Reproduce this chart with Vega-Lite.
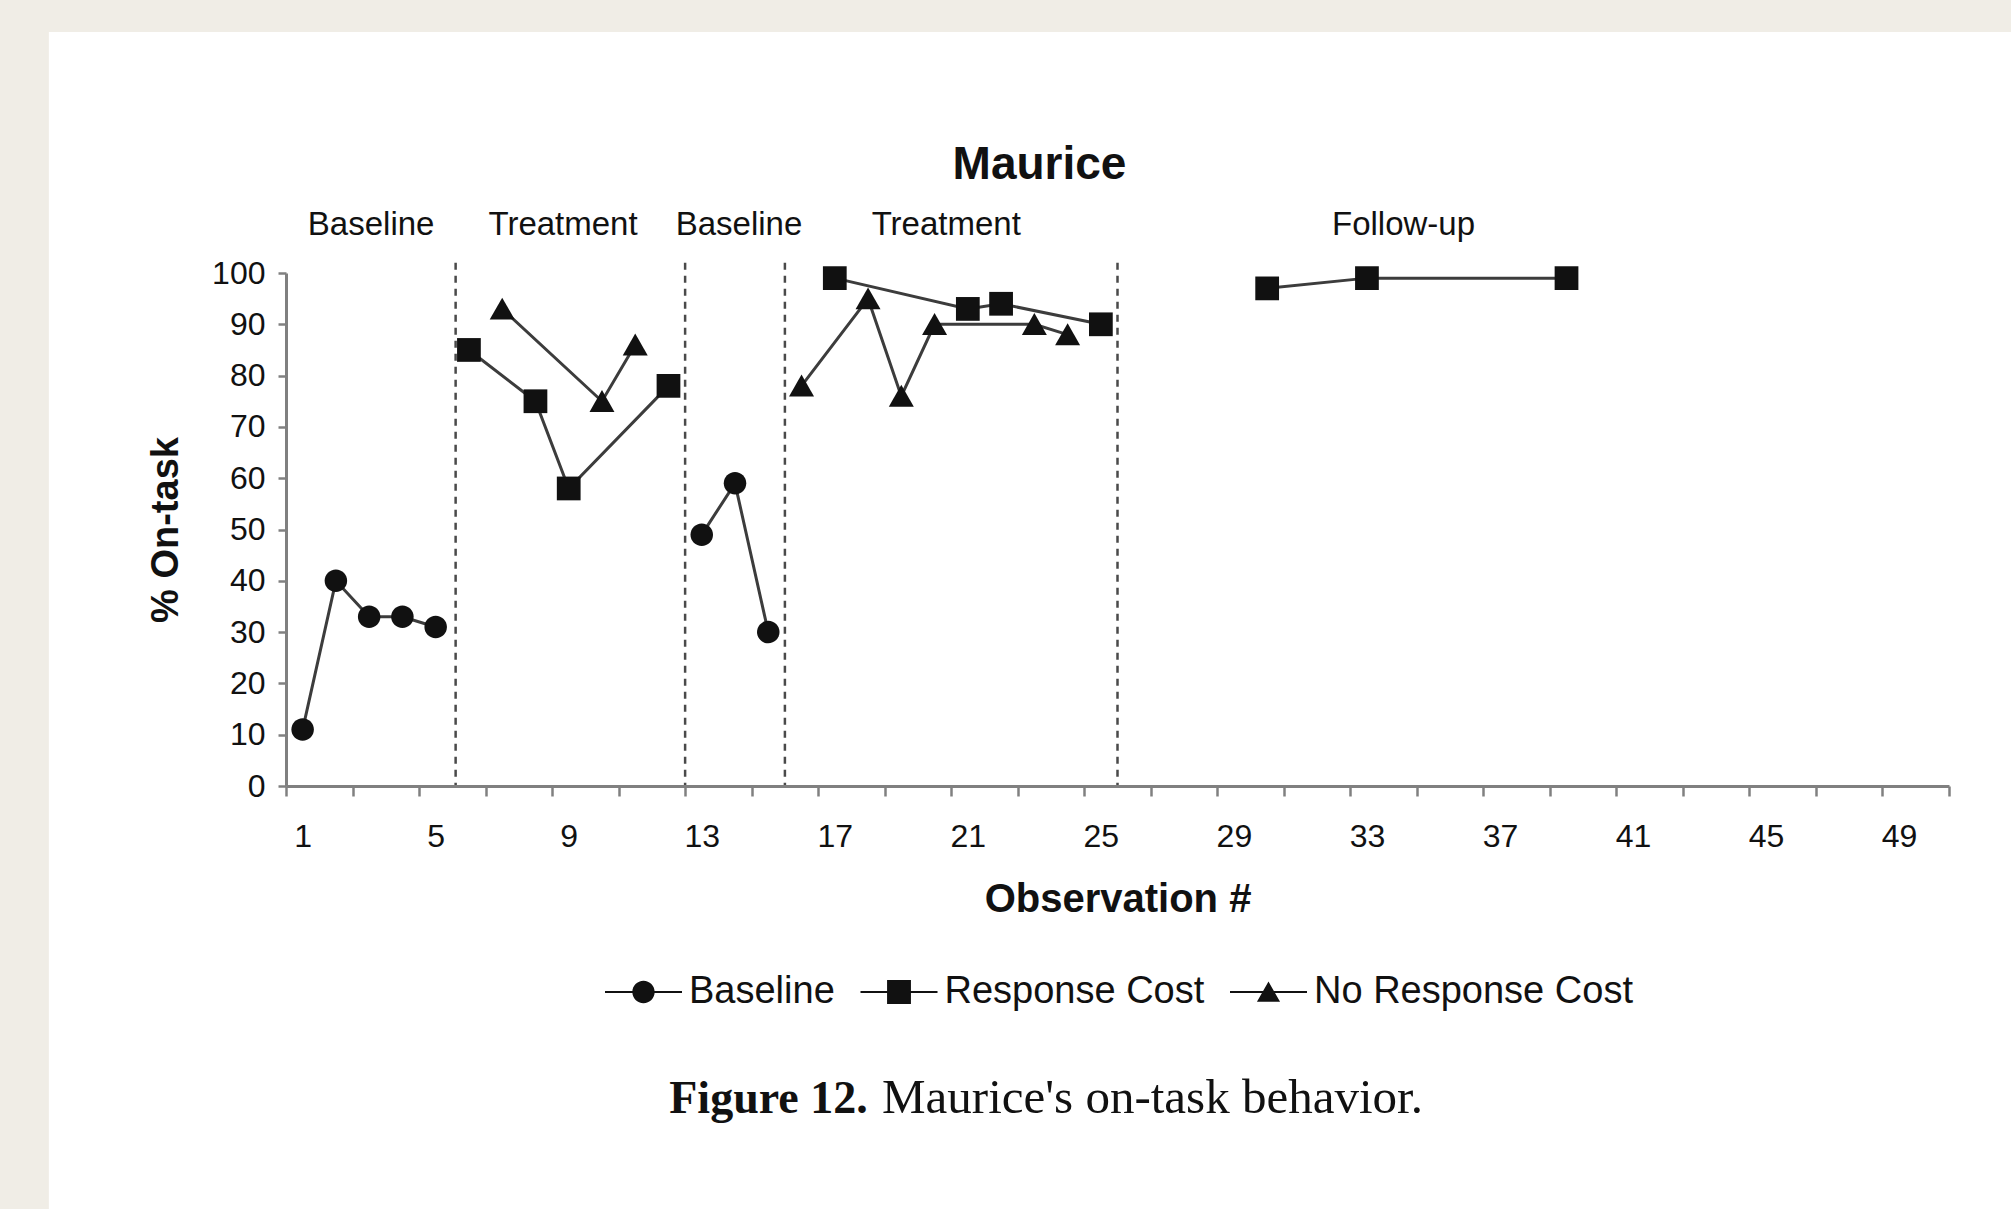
{
  "$schema": "https://vega.github.io/schema/vega-lite/v6.json",
  "width": 1663,
  "height": 513,
  "autosize": {"type": "none"},
  "padding": {"left": 286, "top": 273, "right": 62, "bottom": 423},
  "background": "#ffffff",
  "config": {"view": {"stroke": null}, "font": "Liberation Sans"},
  "title": {"text": "Maurice", "font": "Liberation Sans", "fontSize": 46, "fontWeight": "bold", "color": "#111111", "frame": "group", "anchor": "middle", "dx": -78, "offset": -225, "baseline": "alphabetic"},
  "resolve": {"scale": {"shape": "independent"}, "legend": {"shape": "independent"}},
  "datasets": {
    "obs": [
      {"obs": 1, "pct": 11, "series": "Baseline", "phase": "Baseline 1"},
      {"obs": 2, "pct": 40, "series": "Baseline", "phase": "Baseline 1"},
      {"obs": 3, "pct": 33, "series": "Baseline", "phase": "Baseline 1"},
      {"obs": 4, "pct": 33, "series": "Baseline", "phase": "Baseline 1"},
      {"obs": 5, "pct": 31, "series": "Baseline", "phase": "Baseline 1"},
      {"obs": 6, "pct": 85, "series": "Response Cost", "phase": "Treatment 1"},
      {"obs": 7, "pct": 93, "series": "No Response Cost", "phase": "Treatment 1"},
      {"obs": 8, "pct": 75, "series": "Response Cost", "phase": "Treatment 1"},
      {"obs": 9, "pct": 58, "series": "Response Cost", "phase": "Treatment 1"},
      {"obs": 10, "pct": 75, "series": "No Response Cost", "phase": "Treatment 1"},
      {"obs": 11, "pct": 86, "series": "No Response Cost", "phase": "Treatment 1"},
      {"obs": 12, "pct": 78, "series": "Response Cost", "phase": "Treatment 1"},
      {"obs": 13, "pct": 49, "series": "Baseline", "phase": "Baseline 2"},
      {"obs": 14, "pct": 59, "series": "Baseline", "phase": "Baseline 2"},
      {"obs": 15, "pct": 30, "series": "Baseline", "phase": "Baseline 2"},
      {"obs": 16, "pct": 78, "series": "No Response Cost", "phase": "Treatment 2"},
      {"obs": 17, "pct": 99, "series": "Response Cost", "phase": "Treatment 2"},
      {"obs": 18, "pct": 95, "series": "No Response Cost", "phase": "Treatment 2"},
      {"obs": 19, "pct": 76, "series": "No Response Cost", "phase": "Treatment 2"},
      {"obs": 20, "pct": 90, "series": "No Response Cost", "phase": "Treatment 2"},
      {"obs": 21, "pct": 93, "series": "Response Cost", "phase": "Treatment 2"},
      {"obs": 22, "pct": 94, "series": "Response Cost", "phase": "Treatment 2"},
      {"obs": 23, "pct": 90, "series": "No Response Cost", "phase": "Treatment 2"},
      {"obs": 24, "pct": 88, "series": "No Response Cost", "phase": "Treatment 2"},
      {"obs": 25, "pct": 90, "series": "Response Cost", "phase": "Treatment 2"},
      {"obs": 30, "pct": 97, "series": "Response Cost", "phase": "Follow-up"},
      {"obs": 33, "pct": 99, "series": "Response Cost", "phase": "Follow-up"},
      {"obs": 39, "pct": 99, "series": "Response Cost", "phase": "Follow-up"}
    ],
    "changes": [{"obs": 5.6}, {"obs": 12.5}, {"obs": 15.5}, {"obs": 25.5}],
    "phases": [
      {"label": "Baseline", "obs": 3.06},
      {"label": "Treatment", "obs": 8.83},
      {"label": "Baseline", "obs": 14.12},
      {"label": "Treatment", "obs": 20.35},
      {"label": "Follow-up", "obs": 34.1}
    ]
  },
  "layer": [
    {
      "data": {"values": [{}]},
      "mark": {"type": "rect", "fill": "#f0ede6", "clip": false},
      "encoding": {
        "x": {"datum": -9, "type": "quantitative", "scale": {"domain": [0.5, 50.5], "nice": false, "zero": false}},
        "x2": {"datum": -6.63},
        "y": {"datum": 153.3, "type": "quantitative", "scale": {"domain": [0, 100], "nice": false}},
        "y2": {"datum": -90}
      }
    },
    {
      "data": {"values": [{}]},
      "mark": {"type": "rect", "fill": "#f0ede6", "clip": false},
      "encoding": {
        "x": {"datum": -9, "type": "quantitative", "scale": {"domain": [0.5, 50.5], "nice": false, "zero": false}},
        "x2": {"datum": 53},
        "y": {"datum": 153.3, "type": "quantitative", "scale": {"domain": [0, 100], "nice": false}},
        "y2": {"datum": 147}
      }
    },
    {
      "data": {"name": "changes"},
      "mark": {"type": "rule", "stroke": "#4a4a4a", "strokeWidth": 2.5, "strokeDash": [7, 6], "clip": false},
      "encoding": {
        "x": {"field": "obs", "type": "quantitative", "scale": {"domain": [0.5, 50.5], "nice": false, "zero": false}},
        "y": {"datum": 102, "type": "quantitative", "scale": {"domain": [0, 100], "nice": false}},
        "y2": {"datum": 0}
      }
    },
    {
      "data": {"name": "obs"},
      "mark": {"type": "line", "stroke": "#3c3c3c", "strokeWidth": 3},
      "encoding": {
        "x": {"field": "obs", "type": "quantitative", "scale": {"domain": [0.5, 50.5], "nice": false, "zero": false}},
        "y": {"field": "pct", "type": "quantitative", "scale": {"domain": [0, 100], "nice": false}},
        "detail": [{"field": "series"}, {"field": "phase"}],
        "order": {"field": "obs"}
      }
    },
    {
      "data": {"name": "obs"},
      "mark": {"type": "point", "filled": true, "fill": "#111111", "opacity": 1, "strokeWidth": 0, "size": 625},
      "encoding": {
        "x": {"field": "obs", "type": "quantitative", "scale": {"domain": [0.5, 50.5], "nice": false, "zero": false},
          "axis": {
            "zindex": 2,
            "values": [0.5,1.5,2.5,3.5,4.5,5.5,6.5,7.5,8.5,9.5,10.5,11.5,12.5,13.5,14.5,15.5,16.5,17.5,18.5,19.5,20.5,21.5,22.5,23.5,24.5,25.5,26.5,27.5,28.5,29.5,30.5,31.5,32.5,33.5,34.5,35.5,36.5,37.5,38.5,39.5,40.5,41.5,42.5,43.5,44.5,45.5,46.5,47.5,48.5,49.5,50.5],
            "labelExpr": "(datum.value - 0.5) % 4 == 0 ? format(datum.value + 0.5, 'd') : ''",
            "labelOffset": 16.63, "labelOverlap": false, "labelFlush": false, "labelBound": false,
            "grid": false, "domainColor": "#808080", "domainWidth": 3, "tickColor": "#808080", "tickWidth": 2.5, "tickSize": 10,
            "labelFont": "Liberation Sans", "labelFontSize": 32, "labelColor": "#111111", "labelPadding": 25,
            "title": "Observation #", "titleFont": "Liberation Sans", "titleFontSize": 40, "titleFontWeight": "bold", "titleColor": "#111111", "titlePadding": 27
          }
        },
        "y": {"field": "pct", "type": "quantitative", "scale": {"domain": [0, 100], "nice": false},
          "axis": {
            "zindex": 2,
            "values": [0,10,20,30,40,50,60,70,80,90,100],
            "labelOverlap": false, "labelFlush": false, "grid": false,
            "domainColor": "#808080", "domainWidth": 3, "tickColor": "#808080", "tickWidth": 2.5, "tickSize": 8,
            "labelFont": "Liberation Sans", "labelFontSize": 32, "labelColor": "#111111", "labelPadding": 13,
            "title": "% On-task", "titleFont": "Liberation Sans", "titleFontSize": 38, "titleFontWeight": "bold", "titleColor": "#111111", "titlePadding": 26
          }
        },
        "shape": {"field": "series", "type": "nominal",
          "scale": {"domain": ["Baseline", "Response Cost", "No Response Cost"],
            "range": ["M0.9,0A0.9,0.9,0,1,1,-0.9,0A0.9,0.9,0,1,1,0.9,0Z", "M-0.95,-0.95H0.95V0.95H-0.95Z", "M0,-0.9L1,0.85L-1,0.85Z"]},
          "legend": null
        }
      }
    },
    {
      "data": {"name": "obs"},
      "mark": {"type": "point", "filled": true, "fill": "#111111", "strokeWidth": 3, "opacity": 0, "size": 5929},
      "encoding": {
        "x": {"field": "obs", "type": "quantitative", "scale": {"domain": [0.5, 50.5], "nice": false, "zero": false}},
        "y": {"field": "pct", "type": "quantitative", "scale": {"domain": [0, 100], "nice": false}},
        "shape": {"field": "series", "type": "nominal",
          "scale": {"domain": ["Baseline", "Response Cost", "No Response Cost"],
            "range": [
              "M-1,-0.028H1V0.028H-1ZM0.29,0A0.29,0.29,0,1,1,-0.29,0A0.29,0.29,0,1,1,0.29,0Z",
              "M-1,-0.028H1V0.028H-1ZM-0.31,-0.31H0.31V0.31H-0.31Z",
              "M-1,-0.028H1V0.028H-1ZM0,-0.27L0.3,0.25L-0.3,0.25Z"
            ]},
          "legend": {
            "zindex": 2,
            "orient": "none", "legendX": 317.5, "legendY": 679, "direction": "horizontal", "title": null,
            "padding": 0, "symbolSize": 5929, "symbolStrokeWidth": 3, "symbolFillColor": "#111111", "symbolOpacity": 1,
            "labelFont": "Liberation Sans", "labelFontSize": 38, "labelColor": "#111111", "labelOffset": 5.5, "columnPadding": 18.5, "labelLimit": 500
          }
        }
      }
    },
    {
      "data": {"name": "phases"},
      "mark": {"type": "text", "font": "Liberation Sans", "fontSize": 33, "color": "#111111", "align": "center", "baseline": "alphabetic", "clip": false},
      "encoding": {
        "x": {"field": "obs", "type": "quantitative", "scale": {"domain": [0.5, 50.5], "nice": false, "zero": false}},
        "y": {"datum": 107.4, "type": "quantitative", "scale": {"domain": [0, 100], "nice": false}},
        "text": {"field": "label"}
      }
    },
    {
      "data": {"values": [{}]},
      "mark": {"type": "text", "text": "Figure 12.", "font": "Liberation Serif", "fontSize": 46, "fontWeight": "bold", "color": "#111111", "align": "right", "baseline": "alphabetic", "clip": false},
      "encoding": {
        "x": {"datum": 17.99, "type": "quantitative", "scale": {"domain": [0.5, 50.5], "nice": false, "zero": false}},
        "y": {"datum": -63.7, "type": "quantitative", "scale": {"domain": [0, 100], "nice": false}}
      }
    },
    {
      "data": {"values": [{}]},
      "mark": {"type": "text", "text": "Maurice's on-task behavior.", "font": "Liberation Serif", "fontSize": 49, "color": "#111111", "align": "left", "baseline": "alphabetic", "clip": false},
      "encoding": {
        "x": {"datum": 18.42, "type": "quantitative", "scale": {"domain": [0.5, 50.5], "nice": false, "zero": false}},
        "y": {"datum": -63.7, "type": "quantitative", "scale": {"domain": [0, 100], "nice": false}}
      }
    }
  ]
}
